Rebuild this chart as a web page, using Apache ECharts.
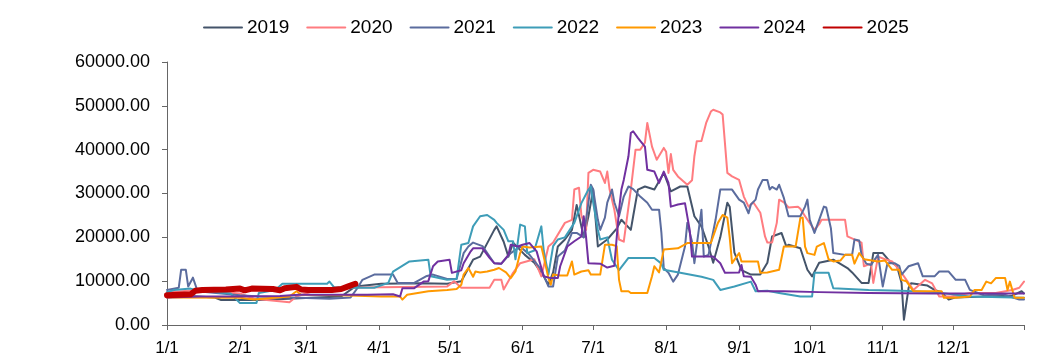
<!DOCTYPE html>
<html>
<head>
<meta charset="utf-8">
<script src="https://cdn.jsdelivr.net/npm/echarts@6/dist/echarts.min.js"></script>
<style>html,body{margin:0;padding:0;background:#fff}#c{width:1044px;height:357px}</style>
</head>
<body>
<div id="c"></div>
<script>
// x = day of year (0 = 1/1), y = value
var monthTicks = [0,31,59,90,120,151,181,212,243,273,304,334];
var monthLabels = ['1/1','2/1','3/1','4/1','5/1','6/1','7/1','8/1','9/1','10/1','11/1','12/1'];
var yTicks = [0,10000,20000,30000,40000,50000,60000];
var years = ['2019','2020','2021','2022','2023','2024','2025'];

var d2019 = [[0,6500],[10,6600],[20,6300],[23,5700],[39,5700],[52,6000],[61,6200],[74,6500],[80,8800],[91,9400],[108,9500],[119,9400],[125,10000],[130,14900],[133,15600],[139,21700],[140,22500],[143,19000],[145,15600],[147,18800],[152,16000],[156,14200],[160,11100],[162,9200],[164,12000],[166,17900],[169,19500],[172,21700],[174,27400],[177,20000],[179,24800],[181,30900],[183,17900],[187,19500],[191,22000],[193,24000],[197,21700],[198,24800],[200,30900],[203,31600],[207,30900],[211,34700],[214,30500],[218,31600],[221,31600],[224,24800],[227,22500],[230,17900],[232,14200],[235,20000],[238,27900],[239,27000],[241,16500],[244,12500],[248,11500],[252,11500],[255,14200],[257,20200],[261,21000],[263,18000],[264,18300],[269,17500],[272,12600],[274,11100],[277,14200],[283,14900],[289,13000],[291,12000],[295,9600],[298,9600],[300,16400],[304,16400],[307,14500],[310,13500],[312,9600],[313,1200],[315,8500],[316,9500],[323,9000],[326,8000],[329,7500],[332,5800],[335,6300],[347,6500],[359,6700],[363,7700],[364,7200]];

var d2020 = [[0,7500],[14,8000],[31,7200],[37,6000],[52,5200],[55,6500],[61,7500],[74,8500],[91,8600],[119,8800],[122,10000],[125,8500],[137,8500],[139,10300],[142,10300],[143,8100],[147,11900],[150,14100],[156,15000],[159,11100],[162,17900],[164,18800],[169,23300],[172,24000],[173,30900],[175,31300],[176,25000],[178,21700],[179,34700],[181,35400],[184,35000],[186,32400],[187,35000],[188,30900],[190,26300],[192,19500],[194,19000],[197,30900],[199,40000],[201,40000],[203,41600],[204,46100],[206,40700],[208,37700],[211,40400],[212,39500],[213,34700],[214,39000],[215,35400],[217,33900],[221,32000],[223,33000],[224,38500],[225,41900],[227,42000],[229,46100],[231,48700],[232,49100],[235,48500],[236,48000],[238,34700],[240,33900],[243,33100],[245,29300],[247,27000],[249,28000],[252,25600],[254,20200],[255,18800],[257,18800],[259,23300],[260,28600],[262,28000],[264,26800],[268,27000],[269,26500],[272,24000],[275,21700],[277,23000],[278,24000],[288,24000],[289,20200],[295,18800],[296,13400],[299,14000],[300,9600],[302,15600],[305,15000],[308,14500],[312,11900],[317,8000],[322,10300],[325,9500],[328,6500],[333,6500],[341,7300],[352,7300],[359,8000],[362,8500],[364,9900]];

var d2021 = [[0,8000],[5,8500],[6,12600],[8,12600],[9,8800],[11,10800],[13,7700],[31,6800],[39,6500],[56,6200],[69,6000],[78,6300],[81,8500],[83,10300],[88,11500],[96,11500],[98,9600],[105,9600],[110,11100],[113,11500],[119,10500],[123,10500],[126,16400],[128,17900],[130,18800],[134,18000],[139,14100],[142,14000],[146,16400],[150,17900],[154,16000],[159,12600],[162,8800],[164,8800],[166,15600],[169,17000],[172,21000],[174,21000],[177,20000],[179,27900],[180,32000],[181,31000],[183,24000],[184,21700],[186,24500],[187,27900],[189,30900],[190,28000],[192,24800],[194,29300],[196,31600],[198,31000],[201,29300],[204,27900],[206,26300],[209,26300],[210,21000],[211,13000],[213,11900],[215,9900],[217,11500],[220,17900],[221,23300],[223,19000],[224,14100],[227,26300],[228,15600],[230,16000],[233,24000],[235,30900],[240,30900],[243,28600],[245,27900],[247,25500],[248,27500],[250,28600],[251,30900],[253,33100],[255,33100],[256,30900],[257,31500],[259,30900],[260,32000],[262,29000],[264,24800],[269,24800],[271,27000],[272,28600],[273,24000],[275,21000],[277,24000],[279,27000],[280,26800],[282,22000],[283,16400],[288,16000],[291,16000],[292,19500],[294,19300],[295,16000],[297,14000],[299,13700],[302,16000],[304,8800],[306,14100],[309,14100],[311,13500],[312,11500],[315,13400],[319,14100],[321,11100],[326,11100],[328,12200],[332,12200],[335,10300],[339,10300],[341,8000],[347,6800],[355,7000],[362,5800],[364,5800]];

var d2022 = [[0,7500],[3,8000],[10,8300],[14,7800],[27,7200],[31,5000],[38,5000],[39,7300],[46,8000],[49,9400],[68,9400],[69,9900],[71,8600],[77,8500],[88,8500],[94,9600],[96,12200],[103,14500],[111,14900],[112,11100],[119,10300],[123,10500],[125,18300],[128,18700],[130,22500],[133,24800],[136,25100],[139,24000],[140,23300],[143,21700],[145,19100],[147,19100],[148,15000],[150,22900],[152,22500],[153,16400],[156,17000],[159,22500],[160,17000],[162,11500],[164,18000],[166,19500],[169,20000],[173,23300],[176,27800],[179,30900],[180,31600],[181,28000],[183,21700],[184,19500],[187,20000],[189,14900],[192,12500],[196,15300],[201,15300],[207,15300],[210,14000],[211,12600],[218,11900],[227,11000],[232,10300],[235,8000],[241,8800],[248,9900],[250,7700],[255,7800],[260,7300],[269,6500],[274,6500],[275,11900],[281,11900],[283,8400],[298,8000],[312,7800],[326,7500],[341,6500],[364,6200]];

var d2023 = [[0,6300],[31,6200],[37,5800],[52,6500],[55,7700],[57,6900],[74,6800],[91,6500],[99,6500],[100,5800],[102,6900],[111,7700],[119,8000],[123,8200],[125,9200],[126,11500],[128,13000],[130,11000],[131,12200],[133,12000],[136,12200],[139,12600],[141,13000],[144,12000],[146,10700],[148,12200],[150,16400],[151,17900],[154,17700],[159,17900],[160,15600],[162,10700],[163,9200],[164,11500],[167,11300],[170,11300],[172,14500],[173,11500],[176,12200],[179,12500],[180,11500],[184,11500],[186,18300],[189,18300],[191,18000],[192,10300],[193,7700],[196,7700],[197,7300],[204,7300],[206,11100],[207,13400],[209,12000],[211,17200],[217,17500],[221,18700],[231,18700],[234,23300],[236,25100],[238,24500],[239,20000],[240,14100],[243,16400],[244,14500],[251,14500],[252,11900],[255,12000],[260,12600],[262,17900],[267,17900],[269,24400],[270,24500],[271,17900],[272,16400],[275,16000],[276,17900],[279,18700],[281,15000],[283,14500],[286,14700],[288,16000],[291,16000],[292,14000],[294,16400],[296,15000],[302,14500],[305,14700],[308,12600],[311,12600],[312,10300],[314,10000],[317,7700],[329,7700],[330,6200],[335,6200],[341,6500],[343,8000],[346,8000],[348,9900],[350,9500],[352,10700],[356,10700],[357,8000],[358,9900],[360,6200],[364,6200]];

var d2024 = [[0,6300],[14,6500],[31,6500],[48,6600],[56,6900],[77,6900],[85,6900],[96,7000],[99,6500],[100,8400],[105,8400],[109,9900],[111,10000],[113,13400],[115,14500],[120,14900],[121,11900],[125,12500],[126,14100],[129,16800],[130,17500],[134,17500],[137,15300],[139,14100],[142,14000],[145,16000],[146,18300],[149,17900],[151,18300],[154,18700],[157,16800],[160,11100],[163,10700],[166,10700],[167,13400],[170,17900],[173,19100],[176,20200],[177,24800],[178,20000],[179,14100],[184,14000],[187,13100],[190,13500],[192,26300],[193,30900],[194,33100],[196,38500],[197,43800],[198,44200],[200,42700],[201,42000],[203,40700],[204,35400],[207,35000],[209,32400],[211,35000],[213,32400],[214,27000],[217,27500],[220,27800],[222,21700],[223,15600],[227,15600],[232,15600],[235,14100],[237,11900],[243,12000],[244,13700],[245,11100],[248,11000],[250,9200],[251,7700],[262,7700],[277,7500],[298,7300],[326,7200],[364,7200]];

var d2025 = [[0,6800],[5,6900],[10,7000],[12,7800],[15,8000],[25,8100],[31,8300],[33,7900],[36,8300],[45,8200],[48,7900],[50,8400],[55,8700],[57,8100],[60,8000],[70,8000],[74,8200],[77,8800],[80,9400]];

var dataList = [d2019, d2020, d2021, d2022, d2023, d2024, d2025];
var colors = ['#44546A','#FF7C80','#5B6C9E','#3E9DB8','#FF9900','#7030A0','#C00000'];
var widths = [2,2,2,2,2,2,6];

var font = 'Liberation Sans, Arial, sans-serif';
var chart = echarts.init(document.getElementById('c'), null, {renderer:'canvas'});
var series = years.map(function(y, i){
  return {
    name: y, type: 'line', data: dataList[i], showSymbol: false, symbol: 'none',
    color: colors[i], lineStyle: {width: widths[i], color: colors[i], cap: 'round', join: 'round'},
    z: 2 + i, animation: false
  };
});
chart.setOption({
  animation: false,
  backgroundColor: '#fff',
  grid: {left: 167, right: 20, top: 62, bottom: 32, containLabel: false},
  legend: {
    data: years, left: 203, top: 18, padding: 0, itemWidth: 38, itemHeight: 14, itemGap: 17,
    itemStyle: {opacity: 0},
    textStyle: {fontFamily: font, fontSize: 19, color: '#000'}
  },
  xAxis: {
    type: 'value', min: 0, max: 364,
    splitLine: {show: false},
    axisLine: {show: true, lineStyle: {color: '#666', width: 1}},
    axisTick: {show: true, length: 5, lineStyle: {color: '#666'}, customValues: monthTicks.concat([364])},
    axisLabel: {
      customValues: monthTicks, margin: 15, color: '#000', fontFamily: font, fontSize: 17,
      formatter: function(v){ var k = monthTicks.indexOf(Math.round(v)); return k >= 0 ? monthLabels[k] : ''; }
    }
  },
  yAxis: {
    type: 'value', min: 0, max: 60000, interval: 10000,
    splitLine: {show: false},
    axisLine: {show: true, lineStyle: {color: '#666', width: 1}},
    axisTick: {show: true, length: 5, lineStyle: {color: '#666'}},
    axisLabel: {margin: 17, color: '#000', fontFamily: font, fontSize: 18,
      formatter: function(v){ return v.toFixed(2); }}
  },
  series: series
});
</script>
</body>
</html>
